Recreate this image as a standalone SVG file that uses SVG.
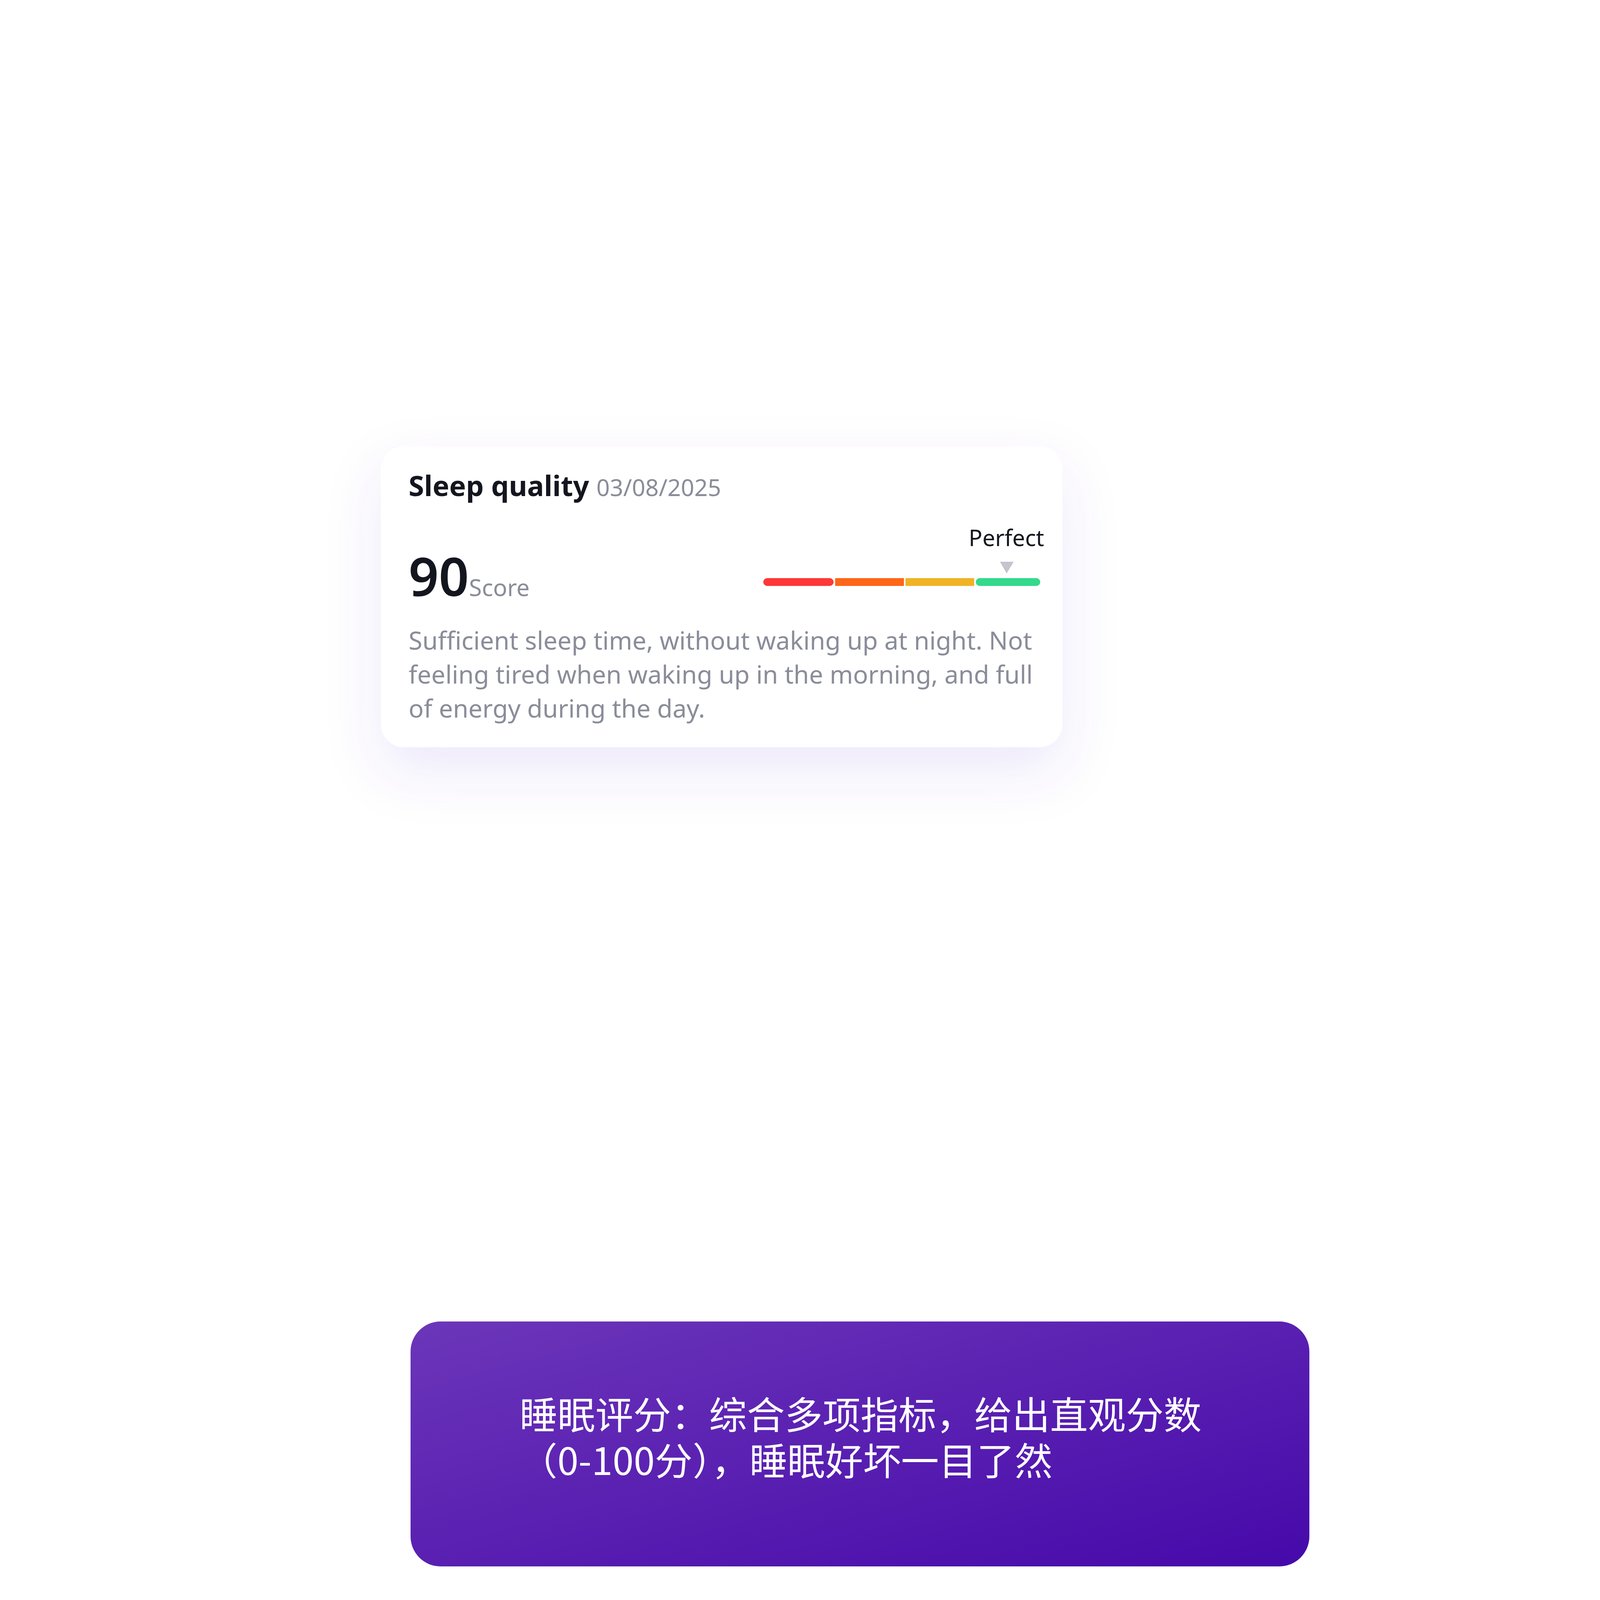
<svg xmlns="http://www.w3.org/2000/svg" width="8000" height="4500" viewBox="0 0 8000 4500">
<defs>
<filter id="sh" x="-20%" y="-20%" width="140%" height="160%"><feDropShadow dx="0" dy="60" stdDeviation="70" flood-color="#6a4fd0" flood-opacity="0.12"/></filter>
<linearGradient id="pg" x1="0" y1="0" x2="1" y2="1"><stop offset="0" stop-color="#6c36b9"/><stop offset="1" stop-color="#4609aa"/></linearGradient>
<style>
text{font-family:"Noto Sans","Liberation Sans",sans-serif}
.gray{fill:#8a8d99}
.dark{fill:#14161f}
</style>
</defs>
<rect width="8000" height="4500" fill="#fff"/>
<g id="card-quality">
<rect x="975" y="1143" width="1745" height="770" rx="60" fill="#fff" filter="url(#sh)"/>
<text x="1046" y="1270" font-size="72" font-weight="bold" class="dark">Sleep quality <tspan font-size="60" font-weight="normal" fill="#8a8d99">03/08/2025</tspan></text>
<text x="2673" y="1398" font-size="58" text-anchor="end" class="dark">Perfect</text>
<path d="M2560 1438 L2595 1438 L2577 1468 Z" fill="#c4c5cc"/>
<rect x="1954" y="1480" width="180" height="20" rx="10" fill="#fe3737"/>
<rect x="2138" y="1480" width="176" height="20" fill="#fe6618"/>
<rect x="2318" y="1480" width="176" height="20" fill="#f0b326"/>
<rect x="2498" y="1480" width="165" height="20" rx="10" fill="#33d98c"/>
<text x="1046" y="1526" font-size="135" font-weight="600" class="dark">90<tspan font-size="60" font-weight="normal" fill="#8a8d99">Score</tspan></text>
<text font-size="64" class="gray"><tspan x="1046" y="1663">Sufficient sleep time, without waking up at night. Not</tspan><tspan x="1046" y="1750">feeling tired when waking up in the morning, and full</tspan><tspan x="1046" y="1837">of energy during the day.</tspan></text>
</g>
<g id="card-stages">
<rect x="5066" y="1673" width="1796" height="419" rx="60" fill="#f4f5f8" filter="url(#sh)"/>
<rect x="5148" y="1770" width="1633" height="62" rx="31" fill="#7640f3"/>
<rect x="5148" y="1770" width="1204" height="62" rx="31" fill="#5b82fb"/>
<rect x="5300" y="1770" width="1052" height="62" fill="#5b82fb"/>
<rect x="5148" y="1770" width="347" height="62" rx="31" fill="#4fc3f7"/>
<rect x="5300" y="1770" width="195" height="62" fill="#4fc3f7"/>
<rect x="5495" y="1770" width="6" height="62" fill="#fff"/>
<rect x="6352" y="1770" width="6" height="62" fill="#fff"/>
<circle cx="5235" cy="1953" r="14" fill="#14c6a8"/><text x="5286" y="1975" font-size="66" class="gray">Awake</text>
<circle cx="5566" cy="1953" r="14" fill="#4fc3f7"/><text x="5612" y="1975" font-size="66" class="gray">REM</text>
<circle cx="5837" cy="1953" r="14" fill="#5b82fb"/><text x="5883" y="1975" font-size="66" class="gray">Light Sleep</text>
<circle cx="6311" cy="1953" r="14" fill="#7640f3"/><text x="6357" y="1975" font-size="66" class="gray">Deep Sleep</text>
</g>
<g id="card-detail">
<rect x="4969" y="3301" width="2006" height="791" rx="60" fill="#fff" filter="url(#sh)"/>
<text x="5066" y="3434" font-size="74" class="gray">Light Sleep</text>
<text x="5066" y="3561" font-size="87" class="dark">3hr1min (41%)  <tspan fill="#5b82fb">Normal</tspan></text>
<rect x="6393" y="3505" width="515" height="52" rx="26" fill="#dcdee8"/>
<rect x="6566" y="3505" width="169" height="52" rx="26" fill="#5b82fb"/>
<path d="M6562 3465 L6580 3465 L6571 3486 Z" fill="#c4c5cc"/>
<text x="6857" y="3633" font-size="58" text-anchor="end" class="gray">40–60%</text>
<text x="5066" y="3811" font-size="74" class="gray">Deep Sleep</text>
<text x="5066" y="3934" font-size="87" class="dark">3hr12min (43%)  <tspan fill="#7640f3">High</tspan></text>
<rect x="6393" y="3883" width="515" height="52" rx="26" fill="#dcdee8"/>
<rect x="6566" y="3883" width="169" height="52" rx="26" fill="#7640f3"/>
<path d="M6767 3842 L6785 3842 L6776 3863 Z" fill="#c4c5cc"/>
<text x="6857" y="4010" font-size="58" text-anchor="end" class="gray">15–25%</text>
</g>
<g id="caption">
<rect x="1051" y="3383" width="2301" height="627" rx="77" fill="url(#pg)"/>
<text font-size="97" fill="#fff" style="font-family:'Noto Sans CJK SC','Noto Sans',sans-serif"><tspan x="1330" y="3658">睡眠评分：综合多项指标，给出直观分数</tspan><tspan x="1330" y="3776">（0-100分），睡眠好坏一目了然</tspan></text>
</g>
<g id="connectors"/>
</svg>
